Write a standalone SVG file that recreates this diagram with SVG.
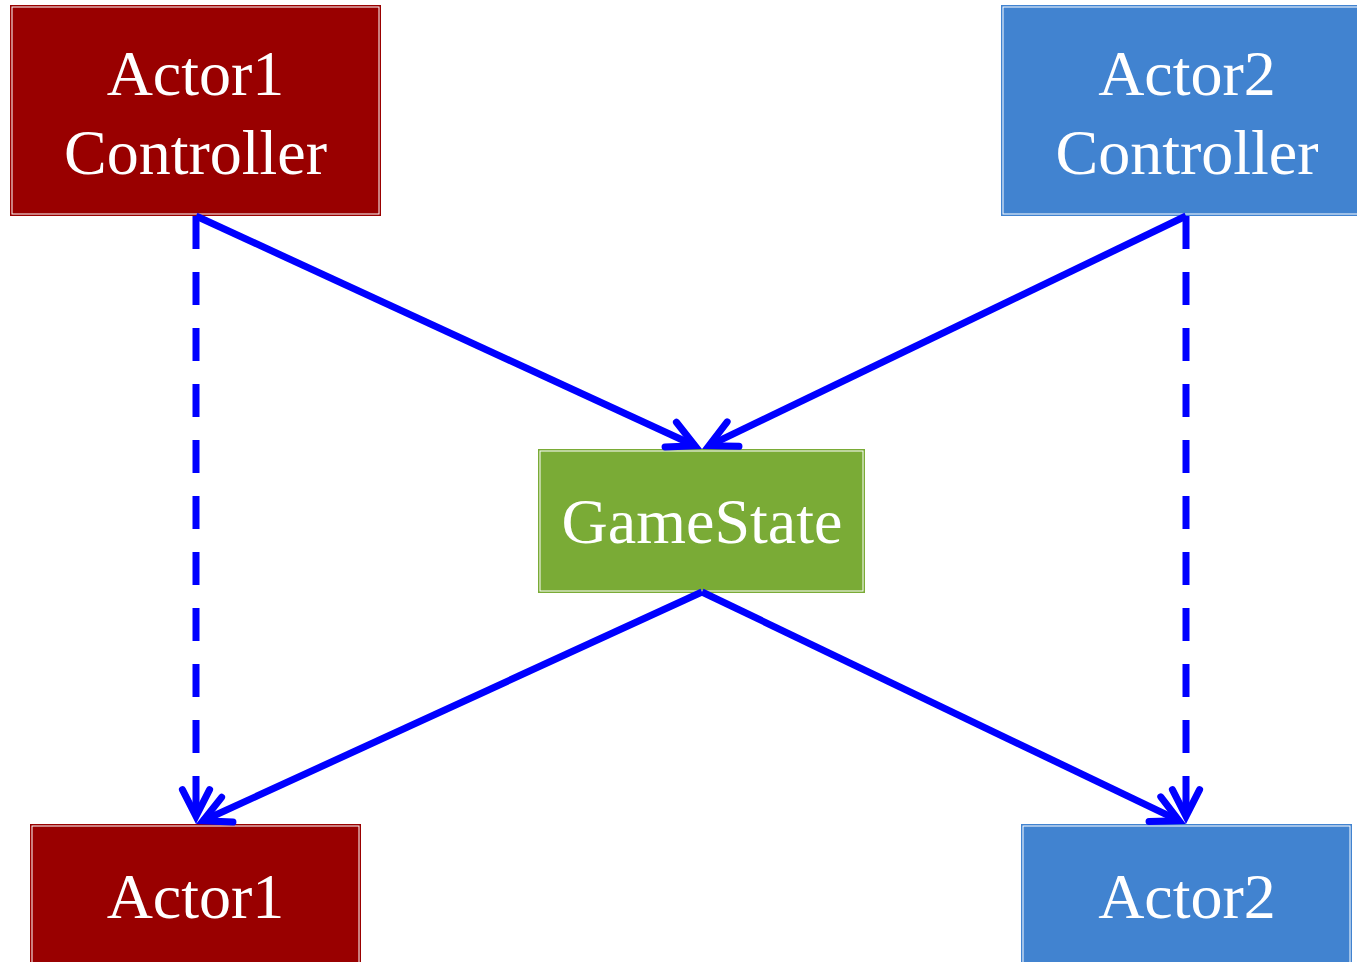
<svg xmlns="http://www.w3.org/2000/svg" width="1357" height="962" viewBox="0 0 1357 962">
<style>
.lbl{font-family:"Liberation Serif","Times New Roman",serif;font-size:64px;fill:#ffffff;text-anchor:middle}
.inner{fill:none;stroke:#ffffff;stroke-width:1}
.red{fill:#990000;stroke:#990000;stroke-width:1}
.blue{fill:#4183d0;stroke:#4183d0;stroke-width:1}
.green{fill:#7aab36;stroke:#7aab36;stroke-width:1}
.edge{fill:none;stroke:#0000ff;stroke-width:7}
.dash{stroke-dasharray:33 23}
.head{fill:none;stroke:#0000ff;stroke-width:7;stroke-linecap:round;stroke-linejoin:miter;stroke-miterlimit:10}
</style>
<defs>
<marker id="arr" markerUnits="userSpaceOnUse" orient="auto" refX="0" refY="0" markerWidth="80" markerHeight="80" viewBox="-40 -40 80 80" overflow="visible">
<path class="head" d="M -26.7,-13.6 L 0,0 L -26.7,13.6"/>
</marker>
</defs>
<g id="actor1controller">
<rect class="red" x="10.5" y="5.5" width="370" height="210"/>
<rect class="inner" x="12" y="7" width="367" height="207"/>
<text class="lbl" x="195.5" y="95">Actor1</text>
<text class="lbl" x="195.5" y="174">Controller</text>
</g>
<g id="actor2controller">
<rect class="blue" x="1001.5" y="5.5" width="370" height="210"/>
<rect class="inner" x="1003" y="7" width="367" height="207"/>
<text class="lbl" x="1187" y="95">Actor2</text>
<text class="lbl" x="1187" y="174">Controller</text>
</g>
<g id="gamestate">
<rect class="green" x="538.5" y="449.5" width="326" height="143"/>
<rect class="inner" x="540" y="451" width="323" height="140"/>
<text class="lbl" x="702" y="543">GameState</text>
</g>
<g id="actor1">
<rect class="red" x="30.5" y="824.5" width="330" height="200"/>
<rect class="inner" x="32" y="826" width="327" height="197"/>
<text class="lbl" x="195.5" y="918">Actor1</text>
</g>
<g id="actor2">
<rect class="blue" x="1021.5" y="824.5" width="330" height="200"/>
<rect class="inner" x="1023" y="826" width="327" height="197"/>
<text class="lbl" x="1187" y="918">Actor2</text>
</g>
<g id="connectors">
<line class="edge dash" x1="196" y1="216" x2="196" y2="816.3" marker-end="url(#arr)"/>
<line class="edge dash" x1="1186" y1="216" x2="1186" y2="816.3" marker-end="url(#arr)"/>
<line class="edge" x1="196" y1="216" x2="695" y2="445.8" marker-end="url(#arr)"/>
<line class="edge" x1="1186" y1="216" x2="709" y2="445.7" marker-end="url(#arr)"/>
<line class="edge" x1="702" y1="592" x2="203" y2="820.8" marker-end="url(#arr)"/>
<line class="edge" x1="702" y1="592" x2="1179" y2="820.7" marker-end="url(#arr)"/>
</g>
</svg>
